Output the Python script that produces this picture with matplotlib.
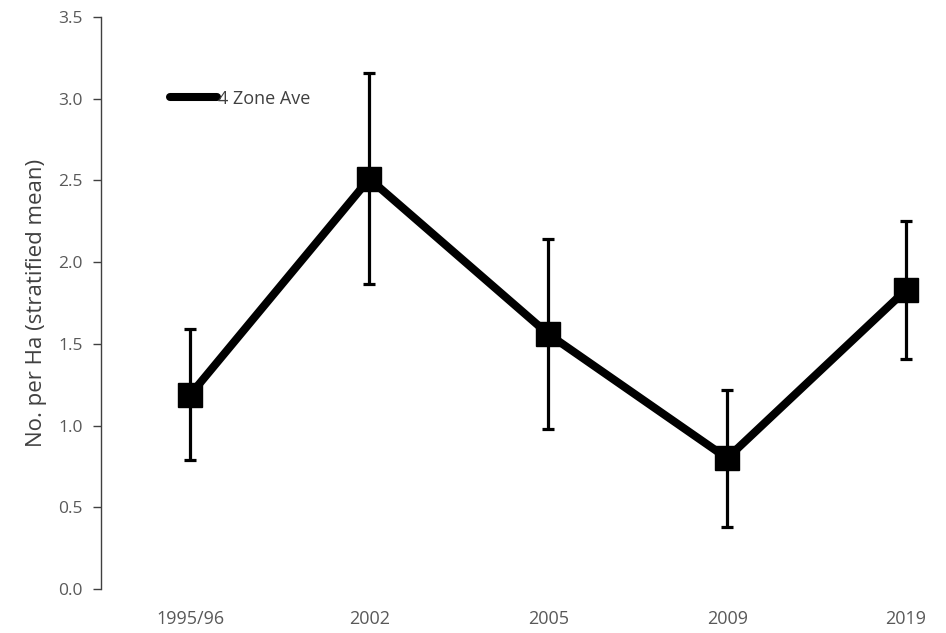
import matplotlib.pyplot as plt
from matplotlib.lines import Line2D

# survey periods and stratified mean density (No. per Ha) with error half-widths
periods = ["1995/96", "2002", "2005", "2009", "2019"]
mean_density = [1.19, 2.51, 1.56, 0.80, 1.83]
density_err = [0.40, 0.645, 0.58, 0.42, 0.42]

y_ticks = [0.0, 0.5, 1.0, 1.5, 2.0, 2.5, 3.0, 3.5]

plt.rcParams["font.family"] = ["Open Sans", "DejaVu Sans"]

fig = plt.figure(figsize=(9.46, 6.33), dpi=100)
ax = fig.add_axes([101 / 946, 1 - 589 / 633, 845 / 946, 572 / 633])

x = list(range(len(periods)))

ax.errorbar(
    x,
    mean_density,
    yerr=density_err,
    color="black",
    linewidth=5.8,
    marker="s",
    markersize=17,
    elinewidth=2.3,
    ecolor="black",
    capsize=4,
    capthick=2.3,
    zorder=3
)

# ------------------------------------------------------------------
# Axes
# ------------------------------------------------------------------

ax.set_xlim(-0.5, 4 + 40 / 179)
ax.set_ylim(0, 3.5)
ax.set_xticks(x)
ax.set_xticklabels(periods)
ax.set_yticks(y_ticks)
ax.set_yticklabels([f"{t:.1f}" for t in y_ticks])

for side in ("top", "right", "bottom"):
    ax.spines[side].set_visible(False)
ax.spines["left"].set_color("#404040")
ax.spines["left"].set_linewidth(1.0)

ax.tick_params(axis="y", direction="out", length=6, width=1.0,
               color="#404040", labelcolor="#595959", labelsize=12.5, pad=7)
ax.tick_params(axis="x", length=0, labelcolor="#595959", labelsize=13, pad=15)

ax.set_ylabel("No. per Ha (stratified mean)", fontsize=16, color="#404040",
              labelpad=8)

# ------------------------------------------------------------------
# Legend
# ------------------------------------------------------------------

handle = Line2D([], [], color="black", linewidth=5.8, solid_capstyle="round")
ax.legend(
    [handle],
    ["4 Zone Ave"],
    loc="center left",
    bbox_to_anchor=(0.062, 3.0 / 3.5),
    frameon=False,
    handlelength=2.6,
    handletextpad=0.1,
    fontsize=13,
    labelcolor="#404040"
)

fig.savefig("out.png", dpi=100)
